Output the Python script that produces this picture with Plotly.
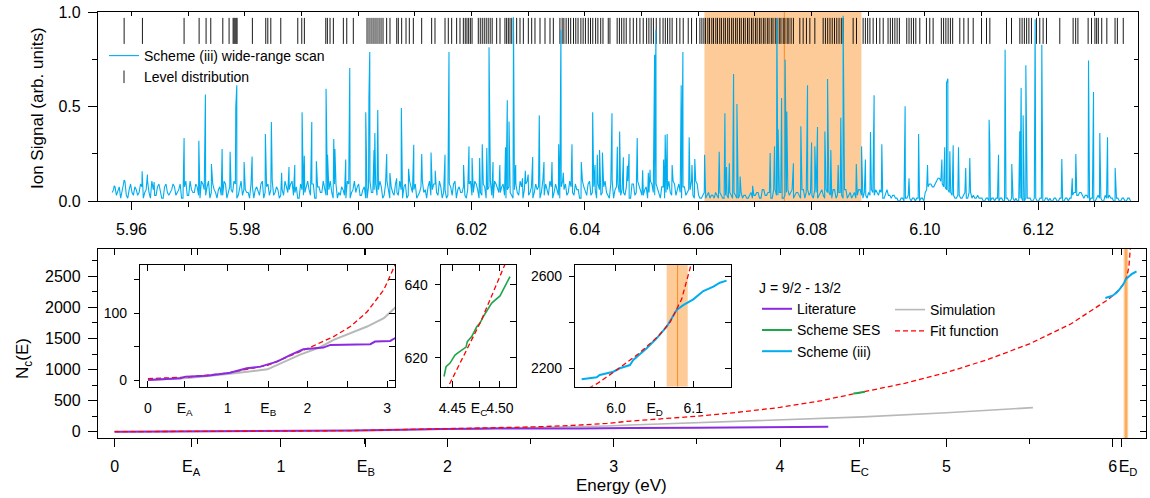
import numpy as np
import plotly.graph_objects as go

W, H = 1150, 498
FONT = "Liberation Sans, Arial, sans-serif"
BLUE = "#00AEEF"
PURPLE = "#8A2BE2"
GREY = "#B8B8B8"
GREEN = "#1FA64A"
RED = "#FF0000"
PEACH = "#FDCB98"
ORANGE = "#FF8A1E"

# ---------------- top panel data ----------------
scan_start, scan_end = 5.9566, 6.1363
# baseline noise of the wide-range scan, one digit per sample (unit = baseline_unit);
# two interleaved sample sets (a, b)
baseline_code_a = (
    "3541624352" "6143725316" "2453617243" "5162734152" "6347152436"
    "1527364251" "4736251437" "2615342716" "3527143625" "1736452713"
    "6245173625" "3174625316" "2743516274" "3615274361" "5243716253"
    "4176253417" "6352417362" "5143726153" "4271635241" "7362514372"
    "6153427"
    "2132123121" "2312132121"
    "2314231423" "1324231432" "2413243142" "3142132412"
    "3423413212" "1011201101" "3565786543" "21" "21313211"
    "1010110101" "0110101101" "0101101010" "11" "232312"
    "0102101210" "10101"
)
baseline_code_b = (
    "4253716243" "5371426153" "3624152736" "2745163427" "1536274315"
    "4361527342" "2547316254" "6153724361" "2416375241" "5342716352"
    "3716254137" "4526371425" "6153247361" "2547163524" "3162547316"
    "5324716254" "2736415273" "4625317462" "3516274253" "6241537264"
    "3524716"
    "1213212312" "1231212132"
    "3142314231" "2431324143" "1324132413" "2413214231"
    "2342314221" "0101110110" "4656875432" "12" "12131121"
    "0101011010" "1001011010" "1010010101" "01" "323221"
    "1011021101" "01010"
)
baseline_unit = 0.015

peak_E = [5.95695, 5.95871, 5.96189, 5.96282, 5.96400, 5.96929, 5.97189, 5.97305, 5.97411, 5.97600,
          5.97741, 5.97841, 5.97859, 5.97988, 5.98129, 5.98363, 5.98469, 5.98650, 5.98780, 5.98882,
          5.99011, 5.99050, 5.99182, 5.99263, 5.99434, 5.99460, 5.99570, 5.99590, 5.99781, 5.99852,
          6.00134, 6.00190, 6.00205, 6.00280, 6.00295, 6.00346, 6.00504, 6.00560, 6.00680, 6.00762,
          6.00890, 6.00981, 6.01122, 6.01286, 6.01360, 6.01533, 6.01603, 6.01860, 6.01956, 6.02010,
          6.02144, 6.02190, 6.02270, 6.02309, 6.02380, 6.02500, 6.02600, 6.02632, 6.02662, 6.02741,
          6.02780, 6.02900, 6.02950, 6.03000, 6.03080, 6.03196, 6.03279, 6.03420, 6.03538, 6.03578,
          6.03620, 6.03773, 6.03937, 6.04138, 6.04180, 6.04220, 6.04260, 6.04310, 6.04479, 6.04573,
          6.04614, 6.04680, 6.04750, 6.04780, 6.04924, 6.05020, 6.05120, 6.05150, 6.05231, 6.05254,
          6.05390, 6.05418, 6.05453, 6.05540, 6.05700, 6.05730, 6.05841, 6.05890, 6.05940, 6.06113,
          6.06371, 6.06471, 6.06500, 6.06550, 6.06624, 6.06683, 6.06740, 6.06960, 6.07270, 6.07347,
          6.07388, 6.07410, 6.07471, 6.07534, 6.07563, 6.07680, 6.07811, 6.07929, 6.08000, 6.08058,
          6.08105, 6.08235, 6.08282, 6.08340, 6.08470, 6.08516, 6.08557, 6.08790, 6.08882, 6.08950,
          6.09040, 6.09104, 6.09240, 6.09651, 6.09720, 6.09889, 6.10046, 6.10300, 6.10350, 6.10381,
          6.10405, 6.10440, 6.10499, 6.10593, 6.10720, 6.10792, 6.11133, 6.11145, 6.11299, 6.11415,
          6.11533, 6.11674, 6.11698, 6.11733, 6.11781, 6.11945, 6.12063, 6.12416, 6.12600, 6.12663,
          6.12887, 6.12975, 6.13086, 6.13222, 6.13357]
peak_h = [0.08, 0.11, 0.157, 0.14, 0.10, 0.333, 0.319, 0.563, 0.196, 0.275,
          0.26, 0.496, 0.612, 0.206, 0.236, 0.354, 0.418, 0.15, 0.18, 0.19,
          0.469, 0.24, 0.418, 0.21, 0.594, 0.245, 0.328, 0.275, 0.22, 0.704,
          0.469, 0.545, 0.788, 0.27, 0.36, 0.481, 0.249, 0.148, 0.12, 0.492,
          0.17, 0.298, 0.249, 0.257, 0.16, 0.245, 0.788, 0.19, 0.289, 0.227,
          0.227, 0.30, 0.28, 0.813, 0.206, 0.19, 0.284, 0.533, 0.42, 0.972,
          0.19, 0.12, 0.16, 0.14, 0.233, 0.453, 0.206, 0.206, 0.30, 0.906,
          0.15, 0.30, 0.206, 0.47, 0.19, 0.245, 0.27, 0.257, 0.464, 0.287,
          0.368, 0.231, 0.187, 0.249, 0.333, 0.162, 0.15, 0.165, 0.774, 0.906,
          0.219, 0.351, 0.354, 0.19, 0.612, 0.788, 0.337, 0.19, 0.222, 0.245,
          0.26, 0.464, 0.18, 0.20, 0.672, 0.513, 0.13, 0.08, 0.254, 0.289,
          0.968, 0.38, 0.545, 0.748, 0.474, 0.20, 0.395, 0.612, 0.31, 0.289,
          0.392, 0.368, 0.645, 0.27, 0.19, 0.44, 0.98, 0.196, 0.289, 0.22,
          0.365, 0.559, 0.30, 0.501, 0.12, 0.354, 0.19, 0.22, 0.284, 0.624,
          0.647, 0.263, 0.295, 0.284, 0.175, 0.227, 0.43, 0.30, 0.245, 0.80,
          0.196, 0.369, 0.598, 0.453, 0.718, 0.96, 0.827, 0.222, 0.12, 0.249,
          0.744, 0.577, 0.36, 0.337, 0.175]

# level energies, meV above level_ref (eV)
level_ref = 5.96
level_meV = [
    -1.29, 1.94, 9.29, 11.94, 13.17, 14.0, 16.12, 17.23, 17.94, 18.11, 18.29, 18.47, 18.64,
    21.34, 23.7, 24.06, 24.59, 26.35, 29.35, 30.05, 30.51, 34.29, 34.57, 35.04, 35.63, 37.39,
    37.99, 39.15, 41.57, 41.92, 42.28, 42.63, 42.98, 43.33, 43.69, 44.04, 44.39, 45.03, 45.62,
    46.81, 47.09, 47.68, 48.45, 49.03, 49.74, 51.21, 52.97, 53.56, 55.33, 55.91, 56.5, 57.38,
    57.97, 58.56, 58.9, 59.2, 59.5, 59.8, 60.1, 61.2, 61.55, 61.9, 62.25, 62.6, 62.95, 63.3,
    63.65, 64.44, 65.03, 65.9, 66.2, 66.5, 66.8, 67.1, 67.4, 67.97, 68.56, 69.15, 70.03, 70.62,
    71.2, 72.09, 72.97, 73.85, 74.44, 75.6, 76.0, 76.3, 76.7, 77.1, 77.5, 78.0, 78.4, 78.8,
    79.3, 79.7, 80.1, 80.6, 81.0, 81.4, 81.9, 82.3, 82.8, 83.2, 84.13, 84.43, 85.7, 86.1, 86.5,
    86.9, 87.3, 87.96, 88.55, 89.14, 89.72, 90.3, 90.9, 91.3, 91.7, 92.1, 92.6, 93.25, 93.8,
    94.2, 94.6, 95.0, 95.4, 96.2, 96.77, 97.36, 98.24, 98.83, 99.7, 100.3, 100.65, 101.0,
    101.3, 101.7, 102.0, 102.4, 102.7, 103.1, 103.4, 103.8, 104.1, 104.5, 104.8, 105.2, 105.5,
    105.9, 106.2, 106.6, 106.9, 107.3, 107.6, 108.0, 108.3, 108.7, 109.0, 109.4, 109.7, 110.1,
    110.4, 110.8, 111.1, 111.5, 111.8, 112.2, 112.5, 112.9, 113.2, 113.6, 113.9, 114.3, 114.6,
    115.0, 115.3, 115.7, 116.0, 116.4, 116.8, 117.93, 118.52, 119.1, 119.7, 120.58, 122.05,
    122.45, 122.85, 123.25, 123.65, 124.05, 124.45, 124.85, 125.25, 125.58, 127.34, 127.93,
    129.1, 129.5, 129.9, 130.3, 130.87, 131.46, 132.05, 132.64, 133.5, 133.9, 134.3, 134.7,
    135.1, 135.5, 136.8, 137.2, 137.6, 138.0, 138.4, 139.1, 140.27, 140.86, 141.45, 142.9,
    143.3, 143.7, 144.1, 144.5, 144.9, 146.16, 146.87, 147.64, 148.52, 149.99, 150.87, 151.46,
    154.4, 155.28, 156.75, 157.15, 157.55, 157.95, 158.35, 158.8, 159.68, 160.27, 160.86,
    161.45, 163.8, 166.15, 166.6, 167.0, 168.8, 169.4, 170.0, 170.3, 170.6, 171.2, 172.1,
    173.55, 173.96, 175.0]
level_row = 0.9

scan_band = (6.0611, 6.0888)
scan_line = 6.0752
top_xrange = [5.9541, 6.1376]
top_yrange = [0, 1]

# ---------------- bottom panel data ----------------
E_A, E_B, E_C, E_D = 0.46, 1.51, 4.478, 6.05

lit_E = [0, 0.41, 0.47, 0.74, 1.03, 1.24, 1.41, 1.62, 1.79, 1.95, 2.2, 2.29, 2.79, 2.85, 3.04, 3.1, 3.5, 4.0, 4.29]
lit_N = [0, 2.5, 5, 6.5, 11, 17.5, 20, 27.5, 37.5, 46, 48.5, 52.5, 53.5, 57.5, 58.5, 62.5, 64, 72, 81]

sim_E = [0, 0.5, 1.0, 1.5, 1.91, 2.16, 2.33, 2.54, 2.75, 2.96, 3.1, 3.5, 4.0, 4.5, 5.0, 5.52]
sim_N = [0, 3, 9, 16, 38, 49, 60, 70, 80, 92.5, 108, 145, 187, 240, 305, 389]

ses_E = [4.4413, 4.4434, 4.4476, 4.4528, 4.458, 4.4644, 4.4657, 4.4703, 4.4756, 4.479, 4.4825,
         4.4877, 4.4913, 4.50, 4.5052, 4.5077, 4.5105]
ses_N = [614.8, 617.5, 618.5, 620.7, 621.7, 622.9, 624.4, 625.8, 628.5, 629.5, 631.3,
         633.6, 635, 637, 639.5, 640.9, 642.3]

fit_E = [0, 0.5, 1.0, 1.5, 2.0, 2.33, 2.54, 2.75, 2.96, 3.1, 3.5, 3.75, 4.0, 4.25, 4.44, 4.48,
         4.52, 4.75, 5.0, 5.25, 5.5, 5.75, 5.975, 6.0, 6.03, 6.055, 6.07, 6.085, 6.097, 6.106]
fit_N = [2, 4.5, 10.5, 22, 47, 65, 80, 102, 135, 172, 250, 314, 392, 502, 609, 630,
         652, 780, 953, 1163, 1415, 1737, 2132, 2190, 2265, 2340, 2400, 2500, 2648, 2960]

s3_E = [5.9556, 5.975, 5.979, 5.9965, 6.005, 6.018, 6.0224, 6.0397, 6.0526, 6.0656, 6.0785,
        6.087, 6.1, 6.1087, 6.113, 6.126, 6.1345, 6.143]
s3_N = [2152, 2161, 2171, 2185, 2200, 2214, 2236, 2287, 2330, 2380, 2453,
        2474, 2499, 2525, 2535, 2554, 2571, 2580]

ses_band = (6.0656, 6.0928)
ses_line = 6.0797

main_xrange = [-0.1, 6.2]
main_yrange = [-100, 2940]
in1_xrange, in1_yrange = [-0.1, 3.1], [-10, 172]
in2_xrange, in2_yrange = [4.4378, 4.5168], [612, 645.5]
in3_xrange, in3_yrange = [5.947, 6.1488], [2120, 2648]


def fx(p):
    return p / W


def fy(p):
    return 1 - p / H


fig = go.Figure()

# ---------- top panel ----------
LEVEL_COLOR = "rgba(0,0,0,0.9)"
level_E = [level_ref + m / 1000.0 for m in level_meV]
fig.add_trace(go.Scatter(
    x=level_E, y=[level_row] * len(level_E), mode="markers", xaxis="x", yaxis="y",
    marker=dict(symbol="line-ns", size=18.6, color=LEVEL_COLOR, line=dict(width=1, color=LEVEL_COLOR)),
    name="Level distribution", showlegend=False, hoverinfo="skip"))
# legend entry for the level bars (smaller bar, as in the key)
fig.add_trace(go.Scatter(
    x=[None], y=[None], mode="markers", xaxis="x", yaxis="y",
    marker=dict(symbol="line-ns", size=9, color=LEVEL_COLOR, line=dict(width=1, color=LEVEL_COLOR)),
    name="Level distribution", legend="legend", legendrank=2, hoverinfo="skip"))

baseline_code = "".join(a + b for a, b in zip(baseline_code_a, baseline_code_b))
bx = np.linspace(scan_start, scan_end, len(baseline_code))
by = np.array([int(c) for c in baseline_code]) * baseline_unit
sx = np.concatenate([bx, np.array(peak_E)])
sy = np.concatenate([by, np.array(peak_h)])
order = np.argsort(sx, kind="stable")
fig.add_trace(go.Scatter(
    x=sx[order], y=sy[order], mode="lines", xaxis="x", yaxis="y",
    line=dict(color=BLUE, width=1.1), name="Scheme (iii) wide-range scan",
    legend="legend", legendrank=1, hoverinfo="skip"))


# ---------- bottom main panel ----------
def line_trace(xv, yv, name, color, width, xa, ya, show, legend=None, rank=None, dash=None):
    return go.Scatter(x=xv, y=yv, mode="lines", name=name, xaxis=xa, yaxis=ya,
                      line=dict(color=color, width=width, dash=dash),
                      showlegend=show, legend=legend, legendrank=rank, hoverinfo="skip")


DASH = "5px,3px"
fig.add_trace(line_trace(sim_E, sim_N, "Simulation", GREY, 1.6, "x2", "y2", True, "legend3", 1))
fig.add_trace(line_trace(lit_E, lit_N, "Literature", PURPLE, 2, "x2", "y2", True, "legend2", 1))
fig.add_trace(line_trace(fit_E, fit_N, "Fit function", RED, 1.3, "x2", "y2", True, "legend3", 2, DASH))
fig.add_trace(line_trace(ses_E, ses_N, "Scheme SES", GREEN, 2, "x2", "y2", True, "legend2", 2))
fig.add_trace(line_trace(s3_E, s3_N, "Scheme (iii)", BLUE, 2, "x2", "y2", True, "legend2", 3))

# inset 1
fig.add_trace(line_trace(sim_E, sim_N, "Simulation", GREY, 2, "x3", "y3", False))
fig.add_trace(line_trace(fit_E, fit_N, "Fit function", RED, 1.3, "x3", "y3", False, dash=DASH))
fig.add_trace(line_trace(lit_E, lit_N, "Literature", PURPLE, 2, "x3", "y3", False))
# inset 2
fig.add_trace(line_trace(ses_E, ses_N, "Scheme SES", GREEN, 1.6, "x4", "y4", False))
fig.add_trace(line_trace(fit_E, fit_N, "Fit function", RED, 1.3, "x4", "y4", False, dash=DASH))
# inset 3
fig.add_trace(line_trace(s3_E, s3_N, "Scheme (iii)", BLUE, 2, "x5", "y5", False))
fig.add_trace(line_trace(fit_E, fit_N, "Fit function", RED, 1.3, "x5", "y5", False, dash=DASH))

# dummy traces so the extra (mirror-tick / label) axes render
for xa, ya in [("x6", "y"), ("x", "y6"), ("x7", "y2"), ("x2", "y7"), ("x8", "y2"),
               ("x3", "y8"), ("x4", "y9"), ("x5", "y10")]:
    fig.add_trace(go.Scatter(x=[None], y=[None], xaxis=xa, yaxis=ya, showlegend=False, hoverinfo="skip"))

# ---------- shapes (bands) ----------
shapes = [
    dict(type="rect", xref="x", yref="y", x0=scan_band[0], x1=scan_band[1], y0=top_yrange[0], y1=top_yrange[1],
         fillcolor=PEACH, line=dict(width=0), layer="below"),
    dict(type="line", xref="x", yref="y", x0=scan_line, x1=scan_line, y0=top_yrange[0], y1=top_yrange[1],
         line=dict(color=ORANGE, width=1), layer="below"),
    dict(type="rect", xref="x2", yref="y2", x0=ses_band[0], x1=ses_band[1], y0=main_yrange[0], y1=main_yrange[1],
         fillcolor=PEACH, line=dict(width=0), layer="below"),
    dict(type="line", xref="x2", yref="y2", x0=ses_line, x1=ses_line, y0=main_yrange[0], y1=main_yrange[1],
         line=dict(color=ORANGE, width=1), layer="below"),
    dict(type="rect", xref="x5", yref="y5", x0=ses_band[0], x1=ses_band[1], y0=in3_yrange[0], y1=in3_yrange[1],
         fillcolor=PEACH, line=dict(width=0), layer="below"),
    dict(type="line", xref="x5", yref="y5", x0=ses_line, x1=ses_line, y0=in3_yrange[0], y1=in3_yrange[1],
         line=dict(color=ORANGE, width=1), layer="below"),
]


# ---------- axes ----------
def base(size=16, **kw):
    d = dict(showgrid=False, zeroline=False, showline=True, linecolor="black", linewidth=1.3,
             tickcolor="black", tickwidth=1.3, mirror=True, tickangle=0,
             tickfont=dict(family=FONT, size=size, color="black"))
    d.update(kw)
    return d


def over(**kw):
    d = dict(showgrid=False, zeroline=False, showline=False, showticklabels=False,
             ticks="inside", tickcolor="black", tickwidth=1.3)
    d.update(kw)
    return d


def minor(ticks="outside", ticklen=5, **kw):
    d = dict(ticks=ticks, ticklen=ticklen, tickcolor="black", tickwidth=1.3)
    d.update(kw)
    return d


main_ticks = [0, E_A, 1, E_B, 2, 3, 4, E_C, 5, 6]
main_text = ["0", "E<sub>A</sub>", "1", "E<sub>B</sub>", "2", "3", "4", "E<sub>C</sub>", "5", "6"]
in_y_dom = [fy(386.7), fy(265)]

layout = dict(
    width=W, height=H, autosize=False,
    margin=dict(l=0, r=0, t=0, b=0, autoexpand=False),
    paper_bgcolor="white", plot_bgcolor="rgba(0,0,0,0)",
    font=dict(family=FONT, size=14, color="black"),
    showlegend=True,
    shapes=shapes,
    # top panel
    xaxis=base(domain=[fx(98), fx(1138)], range=top_xrange, anchor="y", ticks="outside", ticklen=8,
               tick0=5.96, dtick=0.02, tickformat=".2f", ticklabelstandoff=6,
               minor=minor(dtick=0.01, tick0=5.96)),
    yaxis=base(domain=[fy(201), fy(12)], range=top_yrange, anchor="x", ticks="outside", ticklen=9,
               tickvals=[0, 0.5, 1], ticktext=["0.0", "0.5", "1.0"], ticklabelstandoff=4,
               minor=minor(tickvals=[0.25, 0.75])),
    xaxis6=over(overlaying="x", side="top", anchor="y", range=top_xrange, ticklen=4, tick0=5.96, dtick=0.01),
    yaxis6=over(overlaying="y", side="right", anchor="x", range=top_yrange, ticklen=4, tick0=0, dtick=0.25),
    # bottom main
    xaxis2=base(domain=[fx(98), fx(1146)], range=main_xrange, anchor="y2", ticks="outside", ticklen=8,
                tickvals=main_ticks, ticktext=main_text, ticklabelstandoff=6,
                minor=minor(dtick=0.5, tick0=0)),
    # E_D tick with its label nudged right so it sits beside the "6"
    xaxis8=dict(overlaying="x2", side="bottom", anchor="y2", range=main_xrange, showgrid=False,
                zeroline=False, showline=False, ticks="outside", ticklen=8, tickwidth=1.3,
                tickcolor="black", tickvals=[E_D], ticktext=["E<sub>D</sub>"], tickangle=0,
                ticklabelstandoff=6, ticklabelshift=7,
                tickfont=dict(family=FONT, size=16, color="black")),
    yaxis2=base(domain=[fy(438), fy(249)], range=main_yrange, anchor="x2", ticks="outside", ticklen=9,
                tick0=0, dtick=500, ticklabelstandoff=4, minor=minor(dtick=250, tick0=0)),
    xaxis7=over(overlaying="x2", side="top", anchor="y2", range=main_xrange, ticklen=6,
                tickvals=main_ticks + [E_D],
                minor=minor(ticks="inside", ticklen=6, dtick=0.5, tick0=0)),
    yaxis7=over(overlaying="y2", side="right", anchor="x2", range=main_yrange, ticklen=6, tick0=0, dtick=500,
                minor=minor(ticks="inside", ticklen=4, dtick=250, tick0=0)),
    # inset 1
    xaxis3=base(14, domain=[fx(140), fx(395)], range=in1_xrange, anchor="y3", ticks="inside", ticklen=6,
                mirror="ticks", tickvals=[0, E_A, 1, E_B, 2, 3],
                ticktext=["0", "E<sub>A</sub>", "1", "E<sub>B</sub>", "2", "3"], ticklabelstandoff=8,
                minor=minor(ticks="inside", ticklen=6, tickvals=[2.5])),
    yaxis3=base(14, domain=in_y_dom, range=in1_yrange, anchor="x3", ticks="outside", ticklen=5,
                tickvals=[0, 100], ticklabelstandoff=4, minor=minor(tickvals=[50, 150])),
    yaxis8=over(overlaying="y3", side="right", anchor="x3", range=in1_yrange, ticklen=6, tickvals=[0, 50, 100, 150]),
    # inset 2
    xaxis4=base(14, domain=[fx(440.7), fx(516)], range=in2_xrange, anchor="y4", ticks="inside", ticklen=6,
                mirror="ticks", tickvals=[4.45, E_C, 4.50], ticktext=["4.45", "E<sub>C</sub>", "4.50"],
                ticklabelstandoff=8),
    yaxis4=base(14, domain=in_y_dom, range=in2_yrange, anchor="x4", ticks="outside", ticklen=5,
                tickvals=[620, 640], ticklabelstandoff=4, minor=minor(tickvals=[630])),
    yaxis9=over(overlaying="y4", side="right", anchor="x4", range=in2_yrange, ticklen=6, tickvals=[620, 630, 640]),
    # inset 3
    xaxis5=base(14, domain=[fx(575), fx(731)], range=in3_xrange, anchor="y5", ticks="inside", ticklen=6,
                mirror="ticks", tickvals=[6.0, E_D, 6.1], ticktext=["6.0", "E<sub>D</sub>", "6.1"],
                ticklabelstandoff=8),
    yaxis5=base(14, domain=in_y_dom, range=in3_yrange, anchor="x5", ticks="outside", ticklen=5,
                tickvals=[2200, 2600], ticklabelstandoff=4, minor=minor(tickvals=[2400])),
    yaxis10=over(overlaying="y5", side="right", anchor="x5", range=in3_yrange, ticklen=6,
                 tickvals=[2200, 2400, 2600]),
    # legends
    legend=dict(x=fx(104), y=fy(40), xanchor="left", yanchor="top", bgcolor="rgba(0,0,0,0)",
                font=dict(family=FONT, size=14), tracegroupgap=0),
    legend2=dict(x=fx(757), y=fy(275), xanchor="left", yanchor="top", bgcolor="rgba(0,0,0,0)",
                 title=dict(text="J = 9/2 - 13/2", font=dict(family=FONT, size=14)),
                 font=dict(family=FONT, size=14), tracegroupgap=0),
    legend3=dict(x=fx(890), y=fy(294), xanchor="left", yanchor="top", bgcolor="rgba(0,0,0,0)",
                 font=dict(family=FONT, size=14), tracegroupgap=0),
    annotations=[
        dict(text="Ion Signal (arb. units)", x=fx(37), y=fy(108), xref="paper", yref="paper",
             xanchor="center", yanchor="middle",
             textangle=-90, showarrow=False, font=dict(family=FONT, size=17)),
        dict(text="N<sub>c</sub>(E)", x=fx(24), y=fy(359), xref="paper", yref="paper",
             xanchor="center", yanchor="middle",
             textangle=-90, showarrow=False, font=dict(family=FONT, size=17)),
        dict(text="Energy (eV)", x=fx(621.7), y=fy(485), xref="paper", yref="paper",
             xanchor="center", yanchor="middle",
             showarrow=False, font=dict(family=FONT, size=17)),
    ],
)
fig.update_layout(**layout)
fig.write_html("out.html")
